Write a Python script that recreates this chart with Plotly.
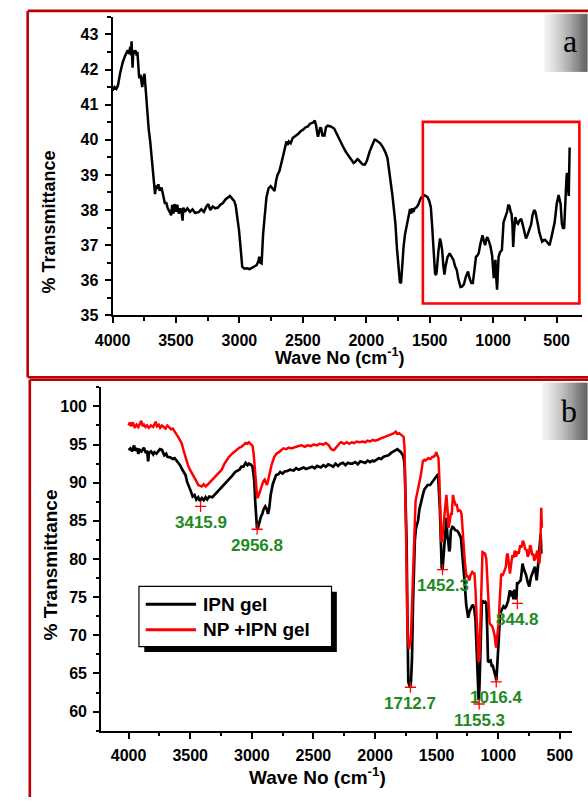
import plotly.graph_objects as go

W, H = 588, 804


def px(x):
    return x / W


def py(y):
    return 1 - y / H


# ---------------- Panel (a) data ----------------
wn_a = [4000, 3985, 3970, 3957, 3940, 3920, 3900, 3880, 3870, 3860, 3855, 3850, 3845, 3842, 3836, 3830,
        3820, 3810, 3804, 3796, 3790, 3780, 3772, 3766, 3758, 3748, 3740, 3728, 3715, 3703, 3690, 3677,
        3670, 3665, 3658, 3650, 3639, 3628, 3614, 3600, 3588, 3576, 3565, 3550, 3538, 3530, 3520, 3512,
        3500, 3490, 3478, 3465, 3456, 3448, 3442, 3430, 3410, 3390, 3370, 3350, 3321, 3300, 3280, 3260,
        3245, 3230, 3210, 3190, 3169, 3150, 3130, 3110, 3093, 3075, 3054, 3040, 3029, 3016, 3003, 2990,
        2978, 2960, 2940, 2920, 2900, 2880, 2864, 2850, 2843, 2835, 2825, 2813, 2800, 2787, 2770, 2754,
        2740, 2723, 2710, 2700, 2685, 2670, 2660, 2647, 2630, 2620, 2610, 2596, 2580, 2560, 2545, 2533,
        2515, 2500, 2480, 2460, 2445, 2431, 2415, 2406, 2395, 2385, 2380, 2370, 2362, 2355, 2345, 2336,
        2329, 2318, 2304, 2280, 2253, 2230, 2210, 2195, 2185, 2177, 2160, 2140, 2120, 2100, 2085, 2070,
        2062, 2045, 2030, 2011, 1995, 1973, 1950, 1935, 1927, 1910, 1890, 1871, 1850, 1833, 1815, 1795,
        1780, 1770, 1758, 1744, 1735, 1726, 1718, 1706, 1695, 1680, 1668, 1655, 1645, 1638, 1630, 1618,
        1604, 1590, 1575, 1566, 1554, 1540, 1530, 1516, 1503, 1491, 1480, 1470, 1458, 1450, 1445, 1432,
        1419, 1410, 1402, 1392, 1384, 1375, 1360, 1343, 1328, 1313, 1300, 1287, 1275, 1265, 1257, 1245,
        1231, 1215, 1198, 1185, 1172, 1160, 1148, 1135, 1125, 1114, 1100, 1084, 1072, 1063, 1055, 1046,
        1032, 1020, 1008, 1000, 995, 989, 982, 976, 969, 963, 957, 945, 931, 918, 901, 890,
        880, 870, 862, 855, 848, 842, 835, 825, 815, 804, 792, 779, 768, 755, 741, 728,
        715, 700, 690, 677, 667, 657, 645, 635, 626, 614, 601, 590, 575, 565, 555, 542,
        529, 515, 499, 490, 484, 476, 468, 458, 448, 440, 433, 428, 422, 418, 410, 404,
        400, 397]
t_a = [41.40, 41.50, 41.45, 41.55, 41.90, 42.20, 42.40, 42.55, 42.45, 42.65, 42.40, 42.80, 42.30, 42.05, 42.55, 42.45,
       42.55, 42.40, 42.50, 42.00, 41.75, 41.85, 41.55, 41.50, 41.75, 41.88, 41.50, 40.80, 40.30, 39.95, 39.40, 39.00,
       38.70, 38.45, 38.70, 38.60, 38.73, 38.55, 38.64, 38.40, 38.20, 38.20, 38.05, 37.95, 37.85, 38.15, 37.90, 38.17,
       37.95, 38.15, 37.90, 38.05, 37.95, 37.70, 38.07, 37.95, 38.05, 37.95, 38.02, 37.92, 37.94, 38.02, 37.95, 38.10,
       38.17, 38.00, 38.10, 38.05, 38.07, 38.15, 38.20, 38.30, 38.36, 38.40, 38.31, 38.25, 38.12, 37.80, 37.42, 36.90,
       36.39, 36.33, 36.34, 36.32, 36.36, 36.38, 36.43, 36.55, 36.67, 36.50, 36.48, 37.33, 37.90, 38.36, 38.62, 38.68,
       38.62, 38.54, 38.85, 39.00, 39.10, 39.35, 39.55, 39.67, 39.95, 39.85, 39.95, 39.90, 40.05, 40.10, 40.15, 40.18,
       40.25, 40.28, 40.35, 40.38, 40.45, 40.47, 40.50, 40.55, 40.40, 40.15, 40.09, 40.25, 40.35, 40.32, 40.10, 40.15,
       40.13, 40.35, 40.40, 40.38, 40.32, 40.15, 40.00, 39.85, 39.80, 39.76, 39.65, 39.55, 39.42, 39.34, 39.38, 39.45,
       39.43, 39.35, 39.30, 39.29, 39.40, 39.67, 39.90, 40.00, 40.00, 39.95, 39.90, 39.80, 39.65, 39.48, 39.05, 38.45,
       37.95, 37.60, 36.90, 36.20, 35.95, 35.92, 36.40, 36.95, 37.30, 37.60, 37.85, 38.03, 37.90, 38.05, 37.94, 38.05,
       38.08, 38.15, 38.30, 38.36, 38.38, 38.42, 38.40, 38.36, 38.25, 38.08, 37.50, 36.86, 36.20, 36.15, 36.25, 36.80,
       37.19, 37.05, 36.86, 36.40, 36.16, 36.40, 36.65, 36.77, 36.65, 36.58, 36.40, 36.30, 36.05, 35.85, 35.81, 35.82,
       35.88, 36.10, 36.25, 36.05, 35.92, 35.92, 36.30, 36.67, 36.70, 36.77, 37.05, 37.28, 37.10, 37.00, 37.15, 37.23,
       37.10, 36.95, 36.70, 36.40, 36.06, 36.40, 36.58, 36.10, 35.73, 36.20, 36.67, 36.80, 36.86, 37.65, 37.80, 37.95,
       38.15, 38.10, 37.95, 37.89, 37.60, 36.95, 37.40, 37.80, 37.65, 37.61, 37.70, 37.75, 37.60, 37.40, 37.19, 37.30,
       37.47, 37.60, 37.85, 38.00, 37.95, 37.80, 37.55, 37.35, 37.23, 37.10, 37.14, 37.15, 37.09, 37.05, 37.00, 37.20,
       37.42, 37.65, 38.17, 38.40, 38.43, 38.30, 38.17, 37.60, 37.47, 37.50, 38.30, 38.45, 38.90, 39.06, 38.70, 38.40,
       39.20, 39.78]

# ---------------- Panel (b) data ----------------
wn_ipn = [4000, 3985, 3970, 3956, 3945, 3930, 3921, 3910, 3895, 3876, 3860, 3850, 3841, 3835, 3818, 3800,
          3790, 3774, 3760, 3745, 3729, 3710, 3695, 3685, 3660, 3640, 3626, 3600, 3582, 3560, 3538, 3525,
          3509, 3495, 3480, 3465, 3450, 3435, 3421, 3405, 3390, 3375, 3362, 3345, 3320, 3303, 3280, 3260,
          3244, 3220, 3200, 3185, 3160, 3140, 3127, 3100, 3085, 3068, 3050, 3035, 3024, 3010, 2994, 2987,
          2980, 2972, 2965, 2958, 2950, 2942, 2935, 2925, 2915, 2905, 2891, 2880, 2868, 2858, 2847, 2830,
          2815, 2803, 2785, 2770, 2750, 2730, 2715, 2690, 2660, 2640, 2620, 2600, 2580, 2560, 2538, 2510,
          2490, 2470, 2440, 2420, 2400, 2380, 2362, 2340, 2320, 2300, 2280, 2260, 2240, 2220, 2200, 2185,
          2160, 2140, 2120, 2100, 2080, 2060, 2040, 2020, 2009, 1990, 1970, 1950, 1930, 1910, 1891, 1870,
          1850, 1835, 1818, 1805, 1790, 1774, 1765, 1759, 1752, 1744, 1737, 1730, 1722, 1715, 1708, 1700,
          1692, 1685, 1677, 1668, 1656, 1651, 1640, 1625, 1612, 1600, 1585, 1573, 1553, 1540, 1525, 1509,
          1500, 1494, 1488, 1482, 1474, 1466, 1459, 1452, 1444, 1432, 1421, 1413, 1406, 1398, 1392, 1385,
          1372, 1362, 1350, 1333, 1320, 1303, 1290, 1274, 1260, 1250, 1244, 1236, 1227, 1215, 1206, 1195,
          1185, 1178, 1172, 1165, 1159, 1153, 1146, 1140, 1133, 1125, 1115, 1105, 1097, 1090, 1083, 1073,
          1062, 1053, 1044, 1038, 1030, 1023, 1015, 1008, 1002, 994, 984, 970, 957, 945, 935, 920,
          906, 895, 885, 877, 870, 860, 853, 847, 840, 830, 818, 810, 803, 795, 786, 774,
          760, 748, 735, 722, 712, 703, 695, 688, 680, 670, 663, 656, 650]
t_ipn = [94.27, 94.50, 94.10, 94.90, 94.20, 94.50, 93.80, 94.30, 94.10, 94.60, 93.90, 94.20, 92.80, 93.90, 94.10, 93.70,
         94.00, 93.80, 94.10, 94.40, 94.30, 93.60, 93.80, 93.40, 93.30, 93.10, 93.20, 92.60, 92.30, 91.60, 91.00, 90.10,
         89.30, 88.90, 88.20, 88.40, 87.80, 88.10, 87.60, 88.00, 87.70, 88.10, 87.80, 88.20, 88.10, 88.40, 88.70, 89.10,
         89.30, 89.80, 90.20, 90.40, 90.90, 91.30, 91.50, 91.70, 92.10, 92.10, 92.60, 92.30, 92.50, 92.40, 92.10, 91.20,
         90.20, 87.50, 84.60, 84.00, 84.10, 84.80, 85.00, 85.60, 85.90, 86.50, 86.90, 86.60, 85.90, 86.70, 88.40, 89.80,
         90.60, 91.00, 91.10, 91.40, 91.20, 91.50, 91.50, 91.70, 91.60, 91.90, 91.70, 91.80, 92.00, 91.80, 91.90, 92.10,
         91.90, 92.20, 92.00, 92.30, 92.10, 92.40, 92.30, 92.10, 92.50, 92.20, 92.50, 92.60, 92.30, 92.60, 92.50, 92.50,
         92.70, 92.40, 92.80, 92.70, 92.60, 92.90, 92.70, 92.90, 92.80, 93.00, 93.20, 93.10, 93.40, 93.50, 93.60, 93.90,
         94.10, 94.30, 94.40, 94.20, 94.00, 93.60, 93.00, 91.90, 88.00, 82.40, 72.00, 63.90, 63.50, 63.20, 64.00, 66.90,
         74.00, 78.10, 82.40, 84.00, 84.60, 85.00, 86.50, 87.70, 88.40, 89.10, 89.40, 89.70, 89.70, 90.00, 90.20, 90.60,
         90.80, 91.00, 90.90, 89.50, 86.70, 82.50, 78.90, 78.60, 80.70, 83.50, 85.40, 83.00, 82.40, 81.00, 81.40, 83.70,
         84.20, 84.10, 83.80, 83.70, 83.40, 82.80, 80.50, 77.20, 74.00, 72.80, 72.30, 73.00, 73.40, 73.80, 74.00, 73.50,
         72.10, 69.50, 66.50, 63.00, 61.50, 63.00, 66.50, 71.00, 74.50, 74.50, 74.30, 74.40, 74.20, 71.00, 66.50, 66.60,
         66.70, 66.00, 66.00, 65.60, 65.20, 64.70, 64.10, 66.00, 68.20, 69.80, 72.90, 73.40, 73.80, 73.60, 73.80, 74.50,
         75.90, 75.10, 75.80, 74.70, 76.00, 75.20, 74.70, 76.80, 76.80, 77.00, 77.20, 78.30, 79.40, 78.80, 78.50, 77.90,
         76.90, 76.40, 77.60, 78.30, 78.80, 79.00, 78.00, 77.20, 78.50, 80.30, 81.80, 83.30, 80.70]

wn_np = [4000, 3990, 3980, 3965, 3950, 3935, 3921, 3910, 3897, 3885, 3875, 3862, 3850, 3835, 3818, 3800,
         3790, 3780, 3770, 3755, 3744, 3730, 3715, 3700, 3685, 3670, 3655, 3641, 3625, 3610, 3597, 3583,
         3568, 3555, 3538, 3520, 3505, 3494, 3475, 3460, 3450, 3435, 3420, 3406, 3390, 3375, 3362, 3345,
         3325, 3303, 3280, 3260, 3244, 3225, 3205, 3185, 3160, 3140, 3127, 3100, 3085, 3068, 3050, 3035,
         3024, 3010, 2994, 2985, 2974, 2965, 2956, 2948, 2935, 2920, 2906, 2895, 2877, 2866, 2856, 2840,
         2818, 2800, 2780, 2760, 2744, 2720, 2700, 2680, 2650, 2620, 2597, 2570, 2550, 2520, 2500, 2470,
         2450, 2420, 2400, 2391, 2375, 2360, 2345, 2332, 2315, 2300, 2285, 2274, 2250, 2230, 2210, 2190,
         2170, 2150, 2127, 2100, 2080, 2060, 2040, 2020, 2000, 1980, 1960, 1940, 1920, 1905, 1891, 1875,
         1860, 1845, 1832, 1820, 1805, 1788, 1775, 1768, 1760, 1750, 1744, 1738, 1730, 1725, 1721, 1715,
         1709, 1700, 1691, 1683, 1671, 1660, 1650, 1641, 1628, 1612, 1600, 1590, 1568, 1550, 1535, 1524,
         1512, 1503, 1495, 1485, 1478, 1471, 1463, 1456, 1448, 1440, 1435, 1429, 1421, 1412, 1403, 1395,
         1385, 1377, 1368, 1360, 1353, 1345, 1337, 1327, 1315, 1306, 1298, 1288, 1280, 1272, 1262, 1255,
         1245, 1235, 1225, 1215, 1211, 1200, 1193, 1185, 1180, 1172, 1165, 1159, 1153, 1148, 1140, 1132,
         1128, 1118, 1107, 1097, 1088, 1080, 1070, 1062, 1050, 1041, 1030, 1018, 1010, 1003, 997, 990,
         983, 976, 965, 950, 938, 930, 923, 915, 905, 895, 885, 876, 866, 855, 845, 834,
         822, 812, 800, 790, 782, 770, 761, 750, 742, 735, 725, 715, 709, 700, 691, 683,
         675, 667, 660, 656, 651, 646]
t_np = [97.50, 97.90, 97.40, 97.90, 97.20, 97.60, 97.30, 97.70, 98.10, 97.40, 97.60, 97.30, 97.50, 97.20, 97.50, 97.30,
        97.80, 98.00, 97.40, 97.60, 97.20, 97.50, 97.30, 97.10, 97.50, 97.20, 97.00, 97.10, 96.60, 96.30, 96.00, 95.50,
        95.10, 94.30, 93.20, 92.40, 91.80, 91.50, 90.90, 90.40, 90.20, 89.70, 89.60, 89.50, 89.80, 89.50, 89.70, 90.00,
        90.30, 90.60, 91.10, 91.40, 91.70, 92.40, 92.90, 93.40, 93.80, 94.10, 94.30, 94.60, 94.70, 94.90, 95.20, 95.10,
        95.30, 95.10, 94.80, 93.80, 91.50, 89.50, 88.00, 88.20, 88.90, 89.60, 90.20, 90.40, 89.70, 90.40, 91.20, 92.30,
        93.40, 93.80, 94.00, 94.30, 94.50, 94.40, 94.60, 94.50, 94.70, 94.80, 94.90, 94.70, 94.90, 94.80, 95.00, 94.90,
        95.10, 95.00, 95.20, 95.10, 94.90, 94.50, 94.30, 94.30, 94.60, 95.00, 95.20, 95.30, 95.10, 95.30, 95.10, 95.30,
        95.20, 95.40, 95.30, 95.40, 95.30, 95.50, 95.40, 95.60, 95.50, 95.60, 95.80, 95.90, 96.00, 96.10, 96.20, 96.30,
        96.40, 96.50, 96.70, 96.40, 96.50, 96.30, 96.20, 96.00, 94.50, 86.70, 79.00, 71.20, 69.50, 68.20, 68.60, 68.80,
        69.50, 74.00, 79.00, 83.00, 87.60, 88.50, 89.20, 89.70, 91.00, 92.80, 93.00, 92.90, 93.20, 93.10, 93.40, 93.40,
        93.60, 94.00, 93.70, 93.20, 90.50, 86.70, 82.40, 82.40, 84.00, 85.50, 85.90, 86.70, 88.40, 86.50, 84.10, 84.80,
        85.90, 85.90, 88.40, 87.80, 87.40, 87.00, 87.20, 86.30, 86.40, 86.30, 85.90, 83.00, 80.50, 79.80, 78.20, 77.70,
        77.70, 77.20, 77.90, 78.20, 78.30, 78.10, 78.10, 76.00, 73.80, 69.90, 67.50, 66.50, 67.00, 70.00, 76.00, 79.50,
        80.90, 80.80, 80.70, 80.00, 77.50, 75.10, 71.60, 71.40, 71.20, 70.80, 70.00, 68.40, 69.50, 70.50, 71.60, 74.00,
        76.50, 78.10, 77.80, 78.50, 79.00, 80.50, 80.70, 79.50, 78.10, 79.40, 80.50, 80.20, 81.10, 80.30, 81.00, 80.70,
        81.80, 81.50, 82.40, 82.00, 81.30, 81.20, 80.30, 80.80, 81.80, 81.60, 80.50, 80.70, 79.80, 80.00, 80.60, 81.10,
        79.80, 79.40, 80.50, 86.70, 86.70, 84.10]

peak_wn = [3415.9, 2956.8, 1712.7, 1452.3, 1155.3, 1016.4, 844.8]
peak_t = [86.9, 83.9, 63.2, 78.6, 61.0, 63.9, 74.2]
peak_labels = ["3415.9", "2956.8", "1712.7", "1452.3", "1155.3", "1016.4", "844.8"]

series_names = ["IPN gel", "NP +IPN gel"]
x_title = "Wave No (cm<sup>-1</sup>)"
y_title = "% Transmittance"

# ---------------- Figure ----------------
fig = go.Figure()
fig.add_trace(go.Scatter(x=wn_a, y=t_a, mode="lines", line=dict(color="black", width=2.5),
                         xaxis="x", yaxis="y", showlegend=False, hoverinfo="skip"))
fig.add_trace(go.Scatter(x=wn_ipn, y=t_ipn, mode="lines", name=series_names[0],
                         line=dict(color="black", width=2.7), xaxis="x2", yaxis="y2", showlegend=False))
fig.add_trace(go.Scatter(x=wn_np, y=t_np, mode="lines", name=series_names[1],
                         line=dict(color="#ff0000", width=2.5), xaxis="x2", yaxis="y2", showlegend=False))
fig.add_trace(go.Scatter(x=peak_wn, y=peak_t, mode="markers",
                         marker=dict(symbol="cross-thin", size=8, line=dict(color="#ff0000", width=1.3)),
                         xaxis="x2", yaxis="y2", showlegend=False))

FONT = "Liberation Sans, Arial, sans-serif"
tickfont = dict(family=FONT, size=16, color="black", weight="bold")


def axis(**kw):
    d = dict(showline=True, linecolor="black", linewidth=2, ticks="outside", ticklen=6,
             tickwidth=1.8, tickcolor="black", showgrid=False, zeroline=False,
             tickfont=tickfont, ticklabelstandoff=3, mirror=False)
    d.update(kw)
    return d


fig.update_layout(
    width=W, height=H, autosize=False,
    margin=dict(l=0, r=0, t=0, b=0),
    paper_bgcolor="white", plot_bgcolor="white",
    xaxis=axis(domain=[px(97.7), px(583.3)], range=[4000, 296], anchor="y", dtick=500, tick0=0,
               minor=dict(dtick=250, ticklen=3.5, tickwidth=1.5, tickcolor="black", ticks="outside")),
    yaxis=axis(domain=[py(319), py(17)], range=[35, 43.5], anchor="x", dtick=1, tick0=0,
               minor=dict(dtick=0.5, ticklen=3.5, tickwidth=1.5, tickcolor="black", ticks="outside")),
    xaxis2=axis(domain=[px(86), px(572.7)], range=[4222, 400], anchor="y2", dtick=500, tick0=0,
                minor=dict(dtick=250, ticklen=3.5, tickwidth=1.5, tickcolor="black", ticks="outside")),
    yaxis2=axis(domain=[py(739), py(391.7)], range=[57.5, 102.5], anchor="x2", dtick=5, tick0=0,
                minor=dict(dtick=2.5, ticklen=3.5, tickwidth=1.5, tickcolor="black", ticks="outside")),
)

shapes = []
BORDER = "#C00000"
# panel (a) frame
shapes.append(dict(type="line", xref="paper", yref="paper", x0=px(10), x1=px(590), y0=py(11), y1=py(11),
                   line=dict(color=BORDER, width=2.6)))
shapes.append(dict(type="line", xref="paper", yref="paper", x0=px(10), x1=px(10), y0=py(11), y1=py(381.5),
                   line=dict(color=BORDER, width=2.6)))
shapes.append(dict(type="line", xref="paper", yref="paper", x0=px(10), x1=px(590), y0=py(381.5), y1=py(381.5),
                   line=dict(color=BORDER, width=2.6)))
# panel (b) frame
shapes.append(dict(type="line", xref="paper", yref="paper", x0=px(12.2), x1=px(590), y0=py(384), y1=py(384),
                   line=dict(color=BORDER, width=2.6)))
shapes.append(dict(type="line", xref="paper", yref="paper", x0=px(12.2), x1=px(12.2), y0=py(384), y1=py(806),
                   line=dict(color=BORDER, width=2.6)))
# highlighted region in panel (a)
shapes.append(dict(type="rect", xref="x", yref="y", x0=1554, x1=320, y0=35.34, y1=40.51,
                   line=dict(color="#ff0000", width=2.6), fillcolor="rgba(0,0,0,0)"))


# gradient label boxes
def gradient_box(x0, x1, y0, y1, n=24):
    step = (x1 - x0) / n
    for i in range(n):
        f = i / (n - 1)
        f2 = f ** 1.3
        c = int(240 - (240 - 100) * f2)
        shapes.append(dict(type="rect", xref="paper", yref="paper",
                           x0=px(x0 + i * step), x1=px(x0 + (i + 1) * step + 0.6),
                           y0=py(y1), y1=py(y0), line=dict(width=0),
                           fillcolor=f"rgb({c},{c},{c})", layer="below"))


gradient_box(544, 588, 14, 72.7)
gradient_box(542, 588, 387, 445)

# legend (drawn manually, with drop shadow)
shapes.append(dict(type="rect", xref="paper", yref="paper", x0=px(130.5), x1=px(329.5), y0=py(659.5), y1=py(598.5),
                   line=dict(width=0), fillcolor="black"))
shapes.append(dict(type="rect", xref="paper", yref="paper", x0=px(125), x1=px(324), y0=py(654), y1=py(593),
                   line=dict(color="black", width=1.2), fillcolor="white"))
shapes.append(dict(type="line", xref="paper", yref="paper", x0=px(132), x1=px(184), y0=py(611), y1=py(611),
                   line=dict(color="black", width=3)))
shapes.append(dict(type="line", xref="paper", yref="paper", x0=px(132), x1=px(184), y0=py(637), y1=py(637),
                   line=dict(color="#ff0000", width=3)))

annotations = []
# panel labels
annotations.append(dict(xref="paper", yref="paper", x=px(570), y=py(41), text="a", showarrow=False,
                        xanchor="center", yanchor="middle",
                        font=dict(family="Liberation Serif, Times New Roman, serif", size=32, color="black")))
annotations.append(dict(xref="paper", yref="paper", x=px(569), y=py(416), text="b", showarrow=False,
                        xanchor="center", yanchor="middle",
                        font=dict(family="Liberation Serif, Times New Roman, serif", size=32, color="black")))
# axis titles
title_font_a = dict(family=FONT, size=18, color="black", weight="bold")
title_font_b = dict(family=FONT, size=19, color="black", weight="bold")
annotations.append(dict(xref="paper", yref="paper", x=px(333), y=py(361), text=x_title, showarrow=False,
                        xanchor="center", yanchor="middle", font=title_font_a))
annotations.append(dict(xref="paper", yref="paper", x=px(33), y=py(224), text=y_title, showarrow=False,
                        textangle=-90, xanchor="center", yanchor="middle", font=title_font_a))
annotations.append(dict(xref="paper", yref="paper", x=px(309), y=py(785), text=x_title, showarrow=False,
                        xanchor="center", yanchor="middle", font=title_font_b))
annotations.append(dict(xref="paper", yref="paper", x=px(34), y=py(571), text=y_title, showarrow=False,
                        textangle=-90, xanchor="center", yanchor="middle", font=title_font_b))
# legend text
legend_font = dict(family=FONT, size=19, color="black", weight="bold")
annotations.append(dict(xref="paper", yref="paper", x=px(189), y=py(611), text=series_names[0], showarrow=False,
                        xanchor="left", yanchor="middle", font=legend_font))
annotations.append(dict(xref="paper", yref="paper", x=px(189), y=py(637), text=series_names[1], showarrow=False,
                        xanchor="left", yanchor="middle", font=legend_font))
# peak labels
for wx, wy, lab in zip(peak_wn, peak_t, peak_labels):
    annotations.append(dict(xref="x2", yref="y2", x=wx, y=wy, text=lab, showarrow=False,
                            xanchor="center", yanchor="middle", yshift=-16,
                            font=dict(family=FONT, size=17, color="#1f8a1f", weight="bold")))

fig.update_layout(shapes=shapes, annotations=annotations)
fig.write_html(
    "out.html",
    config={"displayModeBar": False},
    post_script="document.body.style.margin='0';document.body.style.overflow='hidden';",
)
